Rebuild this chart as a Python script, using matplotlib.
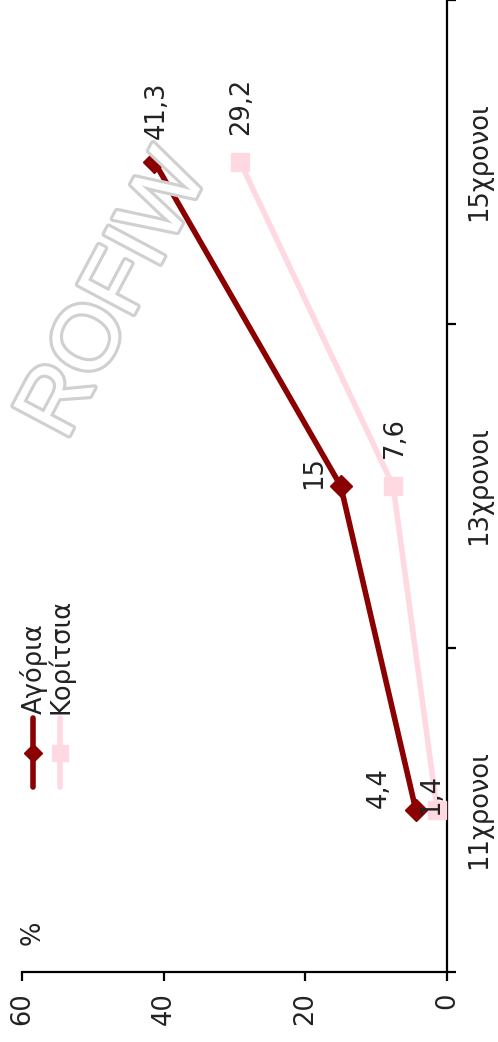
import numpy as np
import matplotlib
matplotlib.use('Agg')
import matplotlib.pyplot as plt
import matplotlib.patheffects as pe
from matplotlib.lines import Line2D

# Données
categories = ['11χρονοι', '13χρονοι', '15χρονοι']
agoria = [4.4, 15, 41.3]
koritsia = [1.4, 7.6, 29.2]
value_ticks = [0, 20, 40, 60]
series_names = ['Αγόρια', 'Κορίτσια']

# Couleurs
c_boys = '#8B0000'
c_girls = '#FFD9E1'
c_txt = '#222222'
fs = 18.5

W, H = 498, 1042
fig = plt.figure(figsize=(W / 100, H / 100), dpi=100)

def fx(px):
    return px / W

def fy(py):
    return 1 - py / H

# Axe : valeurs horizontales (0 à droite), catégories verticales
ax = fig.add_axes([fx(22), fy(972), fx(447) - fx(22), fy(0) - fy(972)])
pos = np.arange(1, len(categories) + 1)

ax.plot(agoria, pos, '-', color=c_boys, lw=4, marker='D', ms=11, zorder=4)
ax.plot(koritsia, pos, '-', color=c_girls, lw=4, marker='s', ms=13, zorder=3)

ax.set_xlim(60, 0)
ax.set_ylim(0.5, 0.5 + 972 / 325)

for s in ['left', 'top']:
    ax.spines[s].set_visible(False)
ax.spines['right'].set_linewidth(1.6)
ax.spines['bottom'].set_linewidth(1.6)

ax.set_xticks(value_ticks)
ax.set_xticklabels([str(v) for v in value_ticks], rotation=90, fontsize=fs, color=c_txt)
ax.tick_params(axis='x', direction='out', length=6.5, width=1.6, pad=8)

ax.yaxis.tick_right()
ax.set_yticks(np.arange(0.5, len(categories) + 1, 1.0))
ax.set_yticklabels([])
ax.set_yticks(pos, minor=True)
ax.set_yticklabels(categories, minor=True, rotation=90, fontsize=fs, color=c_txt, va='center')
ax.tick_params(axis='y', which='major', direction='out', length=6.5, width=1.6)
ax.tick_params(axis='y', which='minor', length=0, pad=14)

# Étiquettes de valeurs
off_boys = [(-27, 16), (-19, 10), (2, 37)]
off_girls = [(-4, 11), (1.5, 35), (1, 40)]
for v, p, o in zip(agoria, pos, off_boys):
    ax.annotate(str(v).replace('.', ','), (v, p), xytext=o, textcoords='offset points',
                rotation=90, ha='center', va='center', fontsize=fs, color=c_txt, zorder=6)
for v, p, o in zip(koritsia, pos, off_girls):
    ax.annotate(str(v).replace('.', ','), (v, p), xytext=o, textcoords='offset points',
                rotation=90, ha='center', va='center', fontsize=fs, color=c_txt, zorder=6)

# Légende manuelle (tournée)
leg = [(33, c_boys, 'D', 9), (60, c_girls, 's', 11)]
for (x, c, m, ms), name in zip(leg, series_names):
    fig.add_artist(Line2D([fx(x), fx(x)], [fy(787), fy(718)], color=c, lw=4,
                          solid_capstyle='round', transform=fig.transFigure))
    fig.add_artist(Line2D([fx(x)], [fy(753)], color=c, marker=m, ms=ms,
                          transform=fig.transFigure))
    fig.text(fx(x + 1), fy(714), name, rotation=90, ha='center', va='bottom',
             fontsize=fs, color=c_txt)

fig.text(fx(33), fy(933), '%', rotation=90, ha='center', va='center', fontsize=fs, color=c_txt)

# Filigrane
fig.text(fx(116), fy(296), 'ROFIW', rotation=62, ha='center', va='center',
         fontsize=66, family='Liberation Sans', color='white', zorder=10,
         path_effects=[pe.withStroke(linewidth=4.5, foreground='#d0d0d0')])

fig.savefig('out.png', dpi=100)
